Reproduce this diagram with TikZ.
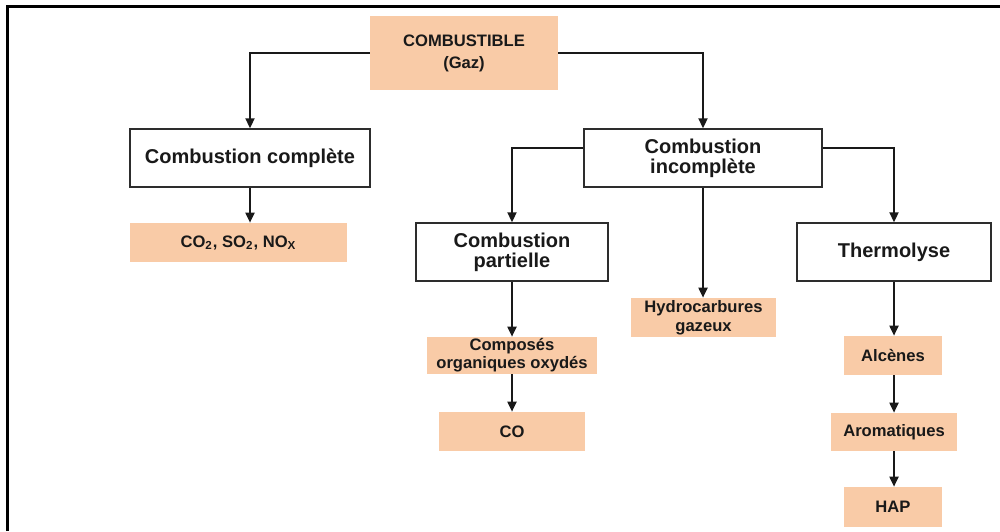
\documentclass[tikz,border=0pt]{standalone}
\usepackage{fontspec}
\setmainfont{Liberation Sans}
\usetikzlibrary{arrows.meta}
\definecolor{peach}{RGB}{249,203,167}
\definecolor{ink}{RGB}{25,25,25}
\definecolor{edge}{RGB}{45,45,45}
\tikzset{
  whitebox/.style={draw=edge, line width=0.75pt, fill=white, align=center, inner sep=0pt,
    font=\bfseries\fontsize{10}{10}\selectfont, text=ink},
  peachbox/.style={fill=peach, draw=none, align=center, inner sep=0pt,
    font=\bfseries\fontsize{8.3}{9.3}\selectfont, text=ink},
  arr/.style={draw=ink, line width=0.75pt, -{Triangle[length=5pt,width=4.6pt]}},
  frameline/.style={draw=black, line width=1.1pt}
}
\begin{document}
\begin{tikzpicture}[x=0.5pt,y=-0.5pt]
\useasboundingbox (0,0) rectangle (1000,531);
\draw[frameline] (7.5,531) -- (7.5,6.5) -- (1000,6.5);

\node[peachbox, minimum width=94pt, minimum height=37pt, font=\bfseries\fontsize{8.3}{11}\selectfont] (fuel) at (464,53) {COMBUSTIBLE\\(Gaz)};
\node[whitebox, minimum width=120pt, minimum height=29pt] (comp) at (250,158) {Combustion complète};
\node[peachbox, minimum width=108.5pt, minimum height=19.5pt] (co2) at (238.5,242.5) {CO\textsubscript{2}, SO\textsubscript{2}, NO\textsubscript{X}};
\node[whitebox, minimum width=119pt, minimum height=29pt] (incomp) at (703,158) {Combustion\\incomplète};
\node[whitebox, minimum width=96pt, minimum height=29pt] (part) at (512,252) {Combustion\\partielle};
\node[peachbox, minimum width=72.5pt, minimum height=19.5pt] (hydro) at (703.5,317.5) {Hydrocarbures\\gazeux};
\node[whitebox, minimum width=97pt, minimum height=29pt] (thermo) at (894,252) {Thermolyse};
\node[peachbox, minimum width=85pt, minimum height=18.5pt, font=\bfseries\fontsize{8.3}{9}\selectfont] (cpo) at (512,355.5) {Composés\\organiques oxydés};
\node[peachbox, minimum width=73pt, minimum height=19.5pt] (co) at (512,431.5) {CO};
\node[peachbox, minimum width=49pt, minimum height=19.5pt] (alc) at (893,355.5) {Alcènes};
\node[peachbox, minimum width=63pt, minimum height=19pt] (aro) at (894,432) {Aromatiques};
\node[peachbox, minimum width=49pt, minimum height=20pt] (hap) at (893,507) {HAP};

\draw[arr] (fuel.west) -| (comp.north);
\draw[arr] (fuel.east) -| (incomp.north);
\draw[arr] (comp.south) -- (comp.south |- co2.north);
\draw[arr] ([yshift=5pt]incomp.west) -| (part.north);
\draw[arr] ([yshift=5pt]incomp.east) -| (thermo.north);
\draw[arr] (incomp.south) -- (incomp.south |- hydro.north);
\draw[arr] (part.south) -- (cpo.north);
\draw[arr] (cpo.south) -- (co.north);
\draw[arr] (thermo.south) -- (thermo.south |- alc.north);
\draw[arr] (alc.south -| thermo.south) -- (thermo.south |- aro.north);
\draw[arr] (aro.south -| thermo.south) -- (thermo.south |- hap.north);
\end{tikzpicture}
\end{document}
